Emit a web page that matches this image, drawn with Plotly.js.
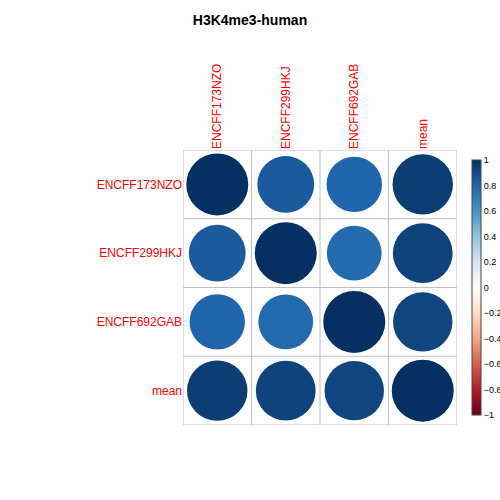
<!DOCTYPE html>
<html><head><meta charset="utf-8">
<script src="https://cdn.plot.ly/plotly-3.0.1.min.js"></script>
<style>body{margin:0;background:#fff}</style></head>
<body><div id="chart" style="width:500px;height:500px"></div>
<script>
// Correlation matrix of H3K4me3 human samples (corrplot-style circles)
const labels = ["ENCFF173NZO", "ENCFF299HKJ", "ENCFF692GAB", "mean"];
const corr = [
  [1.00, 0.84, 0.80, 0.95],
  [0.84, 1.00, 0.78, 0.93],
  [0.80, 0.78, 1.00, 0.92],
  [0.95, 0.93, 0.92, 1.00],
];
const rdbu = ["#67001F","#B2182B","#D6604D","#F4A582","#FDDBC7","#FFFFFF","#D1E5F0","#92C5DE","#4393C3","#2166AC","#053061"];
const colorscale = rdbu.map((c, i) => [i / (rdbu.length - 1), c]);

const n = labels.length;
const xs = [], ys = [], vals = [], sizes = [];
for (let i = 0; i < n; i++) {
  for (let j = 0; j < n; j++) {
    xs.push(j + 1);
    ys.push(n - i);
    vals.push(corr[i][j]);
    sizes.push(62 * Math.sqrt(Math.abs(corr[i][j])));
  }
}

const shapes = [];
for (let k = 0; k <= n; k++) {
  const p = k + 0.5;
  shapes.push({ type: "line", xref: "x", yref: "y", x0: p, x1: p, y0: 0.5, y1: n + 0.5, line: { color: "#bebebe", width: 1 } });
  shapes.push({ type: "line", xref: "x", yref: "y", x0: 0.5, x1: n + 0.5, y0: p, y1: p, line: { color: "#bebebe", width: 1 } });
}

const trace = {
  type: "scatter",
  mode: "markers",
  x: xs,
  y: ys,
  hoverinfo: "none",
  marker: {
    size: sizes,
    opacity: 1,
    color: vals,
    cmin: -1,
    cmax: 1,
    colorscale,
    line: { width: 0 },
    colorbar: {
      x: 1.018, xanchor: "left", y: 0.5, len: 1, lenmode: "fraction",
      thickness: 9, outlinewidth: 1, outlinecolor: "#444",
      tickvals: [1, 0.8, 0.6, 0.4, 0.2, 0, -0.2, -0.4, -0.6, -0.8, -1],
      ticks: "", tickfont: { size: 9, color: "#000" },
    },
  },
};

const layout = {
  width: 500, height: 500,
  margin: { l: 183, r: 43, t: 150, b: 75, autoexpand: false },
  paper_bgcolor: "#fff", plot_bgcolor: "#fff",
  font: { family: "Liberation Sans, Arial, sans-serif" },
  title: { text: "<b>H3K4me3-human</b>", x: 0.5, y: 0.97, font: { size: 14, color: "#000" } },
  showlegend: false,
  xaxis: {
    range: [0.5, n + 0.5], side: "top", tickvals: [1, 2, 3, 4], ticktext: labels,
    tickangle: -90, tickfont: { size: 12, color: "red" }, showgrid: false, zeroline: false, ticks: "", showline: false, fixedrange: true,
  },
  yaxis: {
    range: [0.5, n + 0.5], tickvals: [4, 3, 2, 1], ticktext: labels,
    tickfont: { size: 12, color: "red" }, showgrid: false, zeroline: false, ticks: "", showline: false, fixedrange: true,
  },
  shapes,
};

Plotly.newPlot("chart", [trace], layout, { displayModeBar: false, staticPlot: true });
</script></body></html>
